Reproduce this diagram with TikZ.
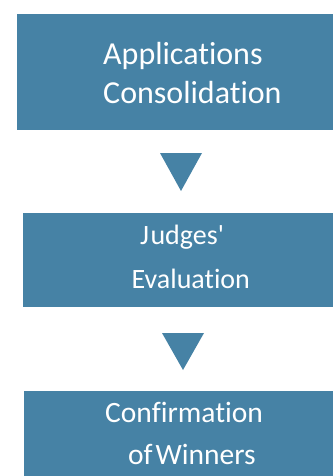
\documentclass[tikz,border=0pt]{standalone}
\usepackage{fontspec}
\setmainfont{Carlito}[Ligatures={NoCommon}]
\definecolor{boxblue}{HTML}{4682A5}
\begin{document}
\begin{tikzpicture}[x=1pt,y=-1pt,
  stage/.style={fill=boxblue,draw=none,anchor=north west,inner sep=0pt},
  line/.style={anchor=base west,inner sep=0pt,text=white},
  arrowtri/.style={fill=boxblue}]
\useasboundingbox (0,0) rectangle (333,476);
\node[stage,minimum width=316pt,minimum height=116pt] (b1) at (17,14) {};
\node[stage,minimum width=310pt,minimum height=94pt] (b2) at (23,213) {};
\node[stage,minimum width=309pt,minimum height=85pt] (b3) at (24,391) {};
\node[line,font=\fontsize{32}{38}\selectfont] (t1a) at (103,65) {Applications};
\node[line,font=\fontsize{32}{38}\selectfont] (t1b) at (103,104) {Consolidation};
\node[line,font=\fontsize{28}{34}\selectfont] (t2a) at (140,244) {J\hspace{0.05em}udges\textquotesingle};
\node[line,font=\fontsize{28}{34}\selectfont] (t2b) at (131.5,288) {Evaluation};
\node[line,font=\fontsize{29.5}{35}\selectfont] (t3a) at (105,422) {Confirmation};
\node[line,font=\fontsize{29.5}{35}\selectfont] (t3b) at (128,464) {of\hspace{0.1em}Winners};
\fill[arrowtri] (160,153) -- (202,153) -- (181,191) -- cycle;
\fill[arrowtri] (162,333) -- (204,333) -- (183,370) -- cycle;
\end{tikzpicture}
\end{document}
